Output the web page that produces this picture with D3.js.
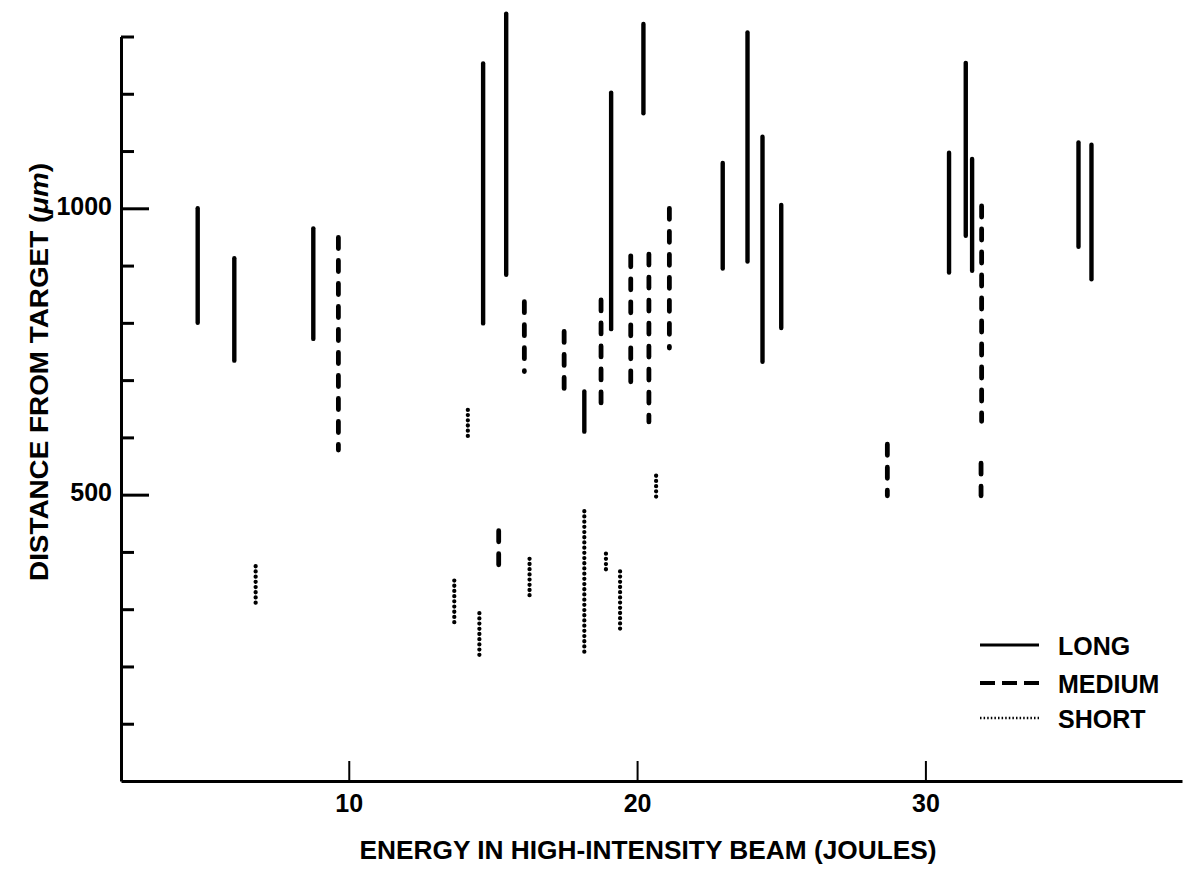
<!DOCTYPE html>
<html>
<head>
<meta charset="utf-8">
<script src="https://cdn.jsdelivr.net/npm/d3@7"></script>
<style>
  html, body { margin: 0; padding: 0; background: #fff; }
  svg { display: block; }
  text { font-family: "Liberation Sans", Arial, Helvetica, sans-serif; fill: #000; }
</style>
</head>
<body>
<svg id="chart" width="1196" height="877"></svg>
<script>
// ---- data: [energy (J), distance from (µm), distance to (µm)] ----
const longSeries = [
  [4.76, 800, 1000], [6.03, 734, 913], [8.77, 772, 965],
  [14.66, 799, 1253], [15.46, 884, 1340], [18.17, 610, 680],
  [19.1, 789, 1202], [20.22, 1166, 1322], [22.97, 895, 1079],
  [23.83, 907, 1307], [24.35, 732, 1125], [25.0, 791, 1006],
  [30.82, 888, 1097], [31.4, 952, 1254], [31.62, 891, 1086],
  [35.31, 933, 1115], [35.76, 876, 1111]
];
const mediumSeries = [
  [9.64, 578, 949], [15.2, 362, 437], [16.09, 715, 837],
  [17.47, 677, 785], [18.75, 643, 840], [19.78, 686, 917],
  [20.41, 627, 920], [21.12, 756, 1000], [28.68, 498, 588],
  [31.95, 628, 1004], [31.93, 498, 555]
];
const shortSeries = [
  [6.77, 309, 375], [13.66, 273, 350], [14.13, 596, 648],
  [14.53, 218, 293], [16.27, 322, 388], [18.17, 223, 471],
  [18.92, 368, 397], [19.41, 261, 366], [20.66, 493, 533]
];
const xTickValues = [10, 20, 30];
const yTickValues = [100, 200, 300, 400, 500, 600, 700, 800, 900, 1000, 1100, 1200, 1300];
const yLabelledTicks = [500, 1000];
const legendLabels = ["LONG", "MEDIUM", "SHORT"];
const xTitle = "ENERGY IN HIGH-INTENSITY BEAM (JOULES)";

// ---- styles ----
const styles = {
  long:   { width: 4.4, dash: null,     cap: "round" },
  medium: { width: 4.8, dash: "11 12",  cap: "round" },
  short:  { width: 4.3, dash: "0 5.2",  cap: "round" }
};
const legendStyles = [
  { width: 2.8, dash: null,   cap: "butt" },
  { width: 3.8, dash: "15 7", cap: "butt" },
  { width: 2.6, dash: "1.5 2.1", cap: "butt" }
];

const svg = d3.select("#chart");
const x = d3.scaleLinear().domain([2.1, 38.9]).range([121, 1182]);
const y = d3.scaleLinear().domain([0, 1300]).range([781, 36.5]);

// Y axis
const yAxis = d3.axisLeft(y)
  .tickValues(yTickValues)
  .tickSizeInner(-13)
  .tickSizeOuter(0)
  .tickPadding(9)
  .tickFormat(d => yLabelledTicks.includes(d) ? String(d) : "");
const gy = svg.append("g").attr("transform", `translate(${x.range()[0]},0)`).call(yAxis);
gy.select(".domain").attr("stroke", "#000").attr("stroke-width", 3);
gy.selectAll(".tick line").attr("stroke", "#000").attr("stroke-width", 3)
  .attr("x2", d => yLabelledTicks.includes(d) ? 28 : 13);
gy.selectAll(".tick text").attr("font-size", 25).attr("font-weight", "bold").attr("fill", "#000")
  .attr("dy", "0.25em");

// X axis
const xAxis = d3.axisBottom(x)
  .tickValues(xTickValues)
  .tickSizeInner(-20)
  .tickSizeOuter(0)
  .tickPadding(13);
const gx = svg.append("g").attr("transform", `translate(0,${y(0)})`).call(xAxis);
gx.select(".domain").attr("stroke", "#000").attr("stroke-width", 3);
gx.selectAll(".tick line").attr("stroke", "#000").attr("stroke-width", 2);
gx.selectAll(".tick text").attr("font-size", 25).attr("font-weight", "bold").attr("fill", "#000")
  .attr("dy", "0.71em");

// Axis titles
svg.append("text")
  .attr("x", 648).attr("y", 859)
  .attr("text-anchor", "middle")
  .attr("font-size", 25).attr("font-weight", "bold")
  .attr("textLength", 577).attr("lengthAdjust", "spacingAndGlyphs")
  .text(xTitle);

const yt = svg.append("text")
  .attr("transform", "translate(48,372) rotate(-90)")
  .attr("text-anchor", "middle")
  .attr("font-size", 25).attr("font-weight", "bold")
  .attr("textLength", 418).attr("lengthAdjust", "spacingAndGlyphs");
yt.append("tspan").text("DISTANCE FROM TARGET (");
yt.append("tspan").attr("font-style", "italic").text("\u03bcm");
yt.append("tspan").text(")");

// Segments
function drawSeries(data, st, cls) {
  svg.append("g").attr("class", cls)
    .selectAll("line").data(data).join("line")
    .attr("x1", d => x(d[0])).attr("x2", d => x(d[0]))
    .attr("y1", d => y(d[2])).attr("y2", d => y(d[1]))
    .attr("stroke", "#000")
    .attr("stroke-width", st.width)
    .attr("stroke-linecap", st.cap)
    .attr("stroke-dasharray", st.dash);
}
drawSeries(longSeries, styles.long, "long");
drawSeries(mediumSeries, styles.medium, "medium");
drawSeries(shortSeries, styles.short, "short");

// Legend
const legendY = [645, 683, 718];
const lg = svg.append("g").attr("class", "legend");
legendLabels.forEach((lab, i) => {
  const s = legendStyles[i];
  lg.append("line")
    .attr("x1", 980).attr("x2", 1039)
    .attr("y1", legendY[i]).attr("y2", legendY[i])
    .attr("stroke", "#000").attr("stroke-width", s.width)
    .attr("stroke-linecap", s.cap)
    .attr("stroke-dasharray", s.dash);
  lg.append("text")
    .attr("x", 1058).attr("y", legendY[i] + 9.5)
    .attr("font-size", 25).attr("font-weight", "bold")
    .text(lab);
});
</script>
</body>
</html>
